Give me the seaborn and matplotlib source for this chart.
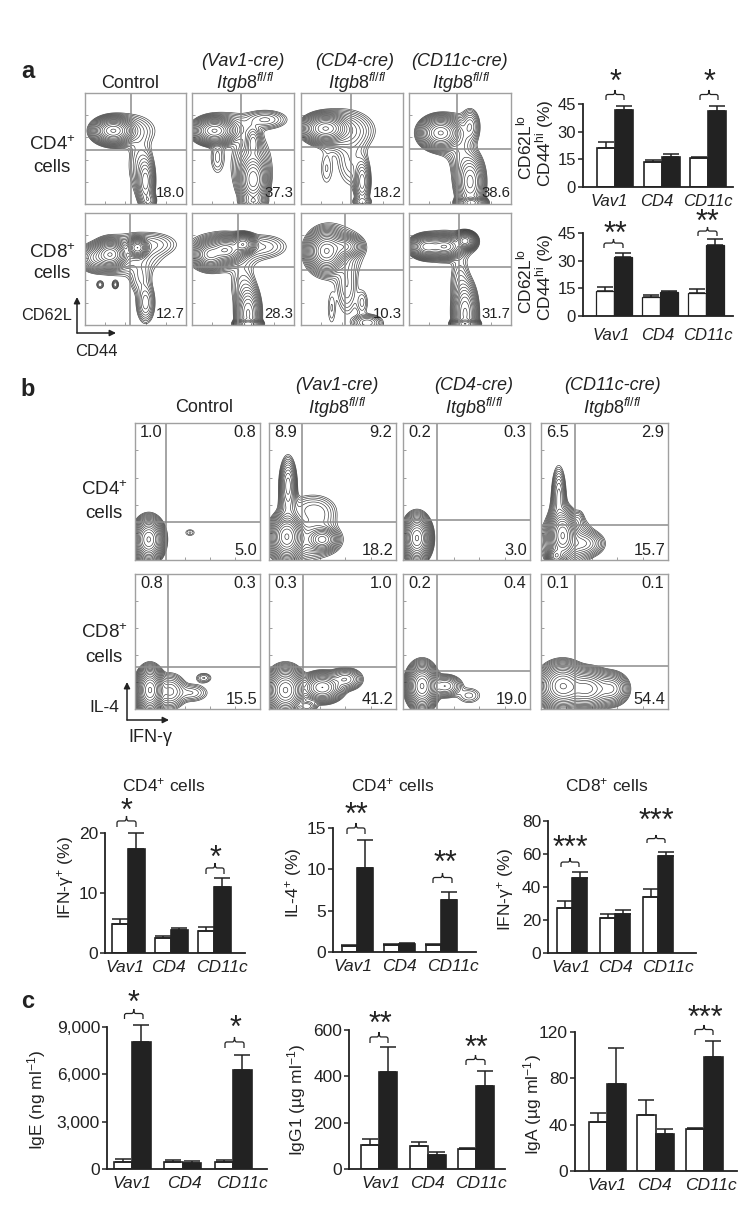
import numpy as np
import pandas as pd
import seaborn as sns
import matplotlib
matplotlib.use('Agg')
import matplotlib.pyplot as plt
from matplotlib.path import Path
from matplotlib.patches import PathPatch, FancyArrowPatch

sns.set_theme(style='white')
REG = ['Liberation Sans', 'DejaVu Sans']
plt.rcParams['font.family'] = REG
plt.rcParams['mathtext.fontset'] = 'custom'
plt.rcParams['mathtext.rm'] = 'Liberation Sans'
plt.rcParams['mathtext.it'] = 'Liberation Sans:italic'
plt.rcParams['mathtext.bf'] = 'Liberation Sans:bold'
plt.rcParams['text.color'] = '#222222'

W, H = 750, 1206
INK = '#222222'

# ---------- bar data ----------
groups = ['Vav1', 'CD4', 'CD11c']
a1_ctrl = [21, 13.5, 15.5];   a1_ko = [41.5, 16.5, 41]
a1_ctrl_top = [24.5, 14.5, 16.5]; a1_ko_top = [44, 18, 44]
a2_ctrl = [13.5, 10.5, 12.5]; a2_ko = [32, 13, 38.5]
a2_ctrl_top = [15.5, 11.5, 14.5]; a2_ko_top = [34, 13.3, 41.5]
b1_ctrl = [4.8, 2.5, 3.6];    b1_ko = [17.3, 3.9, 11]
b1_ctrl_top = [5.7, 2.9, 4.4]; b1_ko_top = [20, 4.1, 12.5]
b2_ctrl = [0.75, 0.85, 0.85]; b2_ko = [10.2, 1.0, 6.3]
b2_ctrl_top = [0.9, 1.0, 0.95]; b2_ko_top = [13.5, 1.1, 7.3]
b3_ctrl = [27, 21, 34];       b3_ko = [45.5, 23.5, 59]
b3_ctrl_top = [31.5, 23.5, 38.5]; b3_ko_top = [49, 26, 61]
c1_ctrl = [450, 450, 450];    c1_ko = [8050, 380, 6250]
c1_ctrl_top = [620, 590, 590]; c1_ko_top = [9150, 490, 7200]
c2_ctrl = [105, 100, 85];     c2_ko = [420, 62, 360]
c2_ctrl_top = [130, 118, 92]; c2_ko_top = [525, 72, 422]
c3_ctrl = [42, 48, 36];       c3_ko = [75, 32, 98]
c3_ctrl_top = [50, 61, 37];   c3_ko_top = [106, 36, 112]

# ---------- flow plots: populations ----------
# each population: (centre x, centre y, spread x, spread y, relative height), in panel fractions
fa_cd4 = [
    [(.28,.66,.11,.065,1),(.42,.66,.20,.11,.025),(.60,.20,.055,.14,.12),(.55,.35,.09,.20,.02),(.63,.03,.05,.05,.05)],
    [(.22,.66,.11,.065,1),(.35,.68,.20,.10,.03),(.72,.76,.15,.06,.03),(.60,.22,.08,.13,.45),(.60,.55,.05,.10,.08),(.58,.35,.13,.20,.04),(.60,.02,.08,.04,.1),(.25,.42,.06,.13,.012)],
    [(.24,.68,.12,.07,1),(.40,.66,.20,.12,.06),(.60,.20,.05,.13,.09),(.50,.40,.12,.20,.015),(.60,.02,.06,.03,.04),(.25,.32,.06,.15,.008)],
    [(.31,.64,.11,.08,1),(.45,.60,.13,.14,.03),(.60,.20,.08,.15,.3),(.61,.01,.08,.035,.6),(.52,.42,.08,.20,.03),(.60,.70,.06,.10,.05)],
]
fa_cd8 = [
    [(.25,.63,.09,.07,1),(.52,.69,.06,.05,.7),(.12,.60,.10,.07,.2),(.40,.62,.25,.13,.03),(.30,.36,.025,.03,.02),(.15,.36,.03,.03,.015),(.60,.20,.06,.12,.05),(.55,.42,.08,.12,.02),(.65,.72,.20,.08,.02)],
    [(.18,.63,.09,.07,.8),(.33,.67,.10,.065,1),(.50,.72,.07,.05,1),(.30,.65,.25,.12,.04),(.55,.10,.07,.15,.3),(.55,.01,.07,.025,.8),(.50,.35,.09,.15,.02),(.70,.70,.18,.08,.02)],
    [(.25,.66,.10,.10,1),(.42,.70,.10,.06,.3),(.33,.65,.20,.17,.03),(.45,.35,.08,.20,.02),(.65,.02,.10,.05,.05),(.30,.15,.04,.15,.008),(.60,.20,.05,.10,.012)],
    [(.18,.70,.09,.055,.9),(.35,.70,.10,.055,1),(.55,.75,.06,.045,.9),(.35,.70,.20,.10,.03),(.55,.10,.07,.17,.3),(.55,.01,.07,.025,.8),(.50,.38,.07,.18,.02)],
]
fb_cd4 = [
    [(.11,.15,.065,.085,1),(.44,.20,.04,.025,.008)],
    [(.14,.17,.07,.09,1),(.25,.15,.20,.10,.05),(.42,.15,.07,.05,.3),(.15,.55,.04,.12,.12),(.15,.35,.05,.15,.04),(.33,.37,.14,.08,.02),(.40,.30,.10,.10,.015)],
    [(.11,.16,.06,.09,1)],
    [(.17,.18,.06,.10,1),(.12,.03,.04,.04,.5),(.14,.48,.035,.13,.06),(.14,.33,.05,.12,.03),(.33,.12,.10,.06,.1),(.30,.30,.03,.05,.012),(.20,.14,.12,.12,.1)],
]
fb_cd8 = [
    [(.12,.14,.06,.09,1),(.28,.13,.08,.08,.08),(.45,.12,.10,.05,.02),(.55,.23,.05,.03,.015)],
    [(.13,.14,.08,.09,1),(.42,.16,.09,.06,.5),(.60,.22,.08,.05,.1),(.30,.02,.05,.03,.05)],
    [(.15,.17,.065,.09,1),(.33,.17,.08,.05,.1),(.52,.10,.08,.05,.012)],
    [(.17,.17,.10,.09,1),(.36,.15,.11,.08,.6),(.55,.15,.08,.07,.2)],
]
a_num = [['18.0', '37.3', '18.2', '38.6'], ['12.7', '28.3', '10.3', '31.7']]
b_num = [
    [('1.0', '0.8', '5.0'), ('8.9', '9.2', '18.2'), ('0.2', '0.3', '3.0'), ('6.5', '2.9', '15.7')],
    [('0.8', '0.3', '15.5'), ('0.3', '1.0', '41.2'), ('0.2', '0.4', '19.0'), ('0.1', '0.1', '54.4')],
]
a_cols = [(85, 186), (192, 294), (301, 403), (409, 511)]
a_rows = [(93, 204), (213, 325)]
a_v = [[.46, .48, .49, .47], [.45, .45, .435, .49]]
a_h = [[.483, .483, .513, .50], [.516, .516, .49, .52]]
b_cols = [(135, 260), (269, 396), (403, 530), (541, 668)]
b_rows = [(423, 560), (574, 709)]
b_v = [[.25, .256, .266, .264], [.26, .265, .266, .27]]
b_h = [[.28, .28, .29, .254], [.308, .308, .283, .32]]

fig = plt.figure(figsize=(W / 100, H / 100), dpi=100, facecolor='white')
LEVELS = np.geomspace(0.004, 0.95, 18)


def T(x, y, s, size=13, ha='center', va='center', **kw):
    return fig.text(x / W, 1 - y / H, s, fontsize=size, ha=ha, va=va, family=REG, color=INK, **kw)


def facs(box_x, box_y, pops, v, h):
    ax = fig.add_axes([box_x[0] / W, 1 - box_y[1] / H, (box_x[1] - box_x[0]) / W, (box_y[1] - box_y[0]) / H])
    gx, gy = np.meshgrid(np.linspace(0, 1, 220), np.linspace(0, 1, 220))
    z = np.zeros_like(gx)
    for cx, cy, sx, sy, w in pops:
        z += w * np.exp(-(((gx - cx) / sx) ** 2 + ((gy - cy) / sy) ** 2))
    ax.contour(gx, gy, z / z.max(), levels=LEVELS, colors='#333333', linewidths=0.45)
    ax.set_xlim(0, 1)
    ax.set_ylim(0, 1)
    ax.axvline(v, color='#8c8c8c', lw=1.1)
    ax.axhline(h, color='#8c8c8c', lw=1.1)
    ax.set_xticks([.2, .4, .6, .8])
    ax.set_yticks([.2, .4, .6, .8])
    ax.set_xticklabels([])
    ax.set_yticklabels([])
    ax.tick_params(length=2, width=.5, color='#777777', left=True, bottom=True, direction='in')
    for s in ax.spines.values():
        s.set_color('#a0a0a0')
        s.set_linewidth(1)
    return ax


for r, row in enumerate(a_rows):
    data = [fa_cd4, fa_cd8][r]
    for c, col in enumerate(a_cols):
        ax = facs(col, row, data[c], a_v[r][c], a_h[r][c])
        ax.text(.99, .10, a_num[r][c], transform=ax.transAxes, ha='right', va='center', fontsize=10.7, color=INK)

for r, row in enumerate(b_rows):
    data = [fb_cd4, fb_cd8][r]
    for c, col in enumerate(b_cols):
        ax = facs(col, row, data[c], b_v[r][c], b_h[r][c])
        ul, ur, lr = b_num[r][c]
        ax.text(.04, .93, ul, transform=ax.transAxes, ha='left', va='center', fontsize=11.8, color=INK)
        ax.text(.97, .93, ur, transform=ax.transAxes, ha='right', va='center', fontsize=11.8, color=INK)
        ax.text(.98, .07, lr, transform=ax.transAxes, ha='right', va='center', fontsize=11.8, color=INK)


def bars(left, right, base, tick, ymax, ticks, ticklabs, c0, sp, bw, ctrl, ko, ctrl_top, ko_top, lab_x, fs=12.5, lw=1.2, pad=5):
    top = base - (base - tick) * 1.35
    ax = fig.add_axes([left / W, 1 - base / H, (right - left) / W, (base - top) / H])
    ax.patch.set_alpha(0)
    df = pd.DataFrame({'group': groups * 2, 'genotype': ['ctrl'] * 3 + ['ko'] * 3, 'value': list(ctrl) + list(ko)})
    sns.barplot(data=df, x='group', y='value', hue='genotype', order=groups, hue_order=['ctrl', 'ko'],
                palette={'ctrl': 'white', 'ko': '#222222'}, edgecolor=INK, linewidth=lw, saturation=1,
                width=2 * bw / sp, errorbar=None, legend=False, ax=ax)
    for cont, tops in zip(ax.containers, [ctrl_top, ko_top]):
        for bar, t in zip(cont, tops):
            xc = bar.get_x() + bar.get_width() / 2
            v = bar.get_height()
            ax.errorbar([xc], [v], yerr=[[0], [t - v]], color=INK, lw=1.1, capsize=5.5, capthick=1.1, zorder=1)
    ax.set_xlim((left - c0) / sp, (right - c0) / sp)
    ax.set_ylim(0, ymax * 1.35)
    ax.set_yticks(ticks)
    ax.set_yticklabels(ticklabs, fontsize=fs, family=REG, color=INK)
    ax.set_xticks([(x - c0) / sp for x in lab_x])
    ax.set_xticklabels(groups, fontsize=fs, family=REG, style='italic', color=INK)
    ax.set_xlabel('')
    ax.set_ylabel('')
    ax.tick_params(axis='y', length=3.5, width=1.1, color=INK, left=True, pad=1.5)
    ax.tick_params(axis='x', length=0, pad=pad)
    for s in ['top', 'right']:
        ax.spines[s].set_visible(False)
    ax.spines['left'].set_bounds(0, ymax)
    for s in ['left', 'bottom']:
        ax.spines[s].set_color(INK)
        ax.spines[s].set_linewidth(1.3)
    return ax


def brace(x0, x1, y_top, y_bot, star_x, star_y, n):
    def P(x, y):
        return (x / W, 1 - y / H)
    xm = (x0 + x1) / 2
    sh = y_top + (y_bot - y_top) * 0.45
    verts = [P(x0, y_bot), P(x0, sh + 2), P(x0, sh), P(x0 + 2, sh), P(xm - 2, sh), P(xm, sh), P(xm, y_top),
             P(xm, sh), P(xm + 2, sh), P(x1 - 2, sh), P(x1, sh), P(x1, sh + 2), P(x1, y_bot)]
    L, C = Path.LINETO, Path.CURVE3
    codes = [Path.MOVETO, L, C, C, L, C, C, C, C, L, C, C, L]
    fig.add_artist(PathPatch(Path(verts, codes), transform=fig.transFigure, fill=False, ec=INK, lw=0.9))
    T(star_x, star_y + 5.5, '*' * n, size=22)


lab = dict(rotation=90)
# panel a bars
bars(583, 733, 187, 104, 45, [0, 15, 30, 45], ['0', '15', '30', '45'], 615, 46.5, 18, a1_ctrl, a1_ko, a1_ctrl_top, a1_ko_top, [609, 657, 708], fs=12)
bars(583, 733, 316, 233, 45, [0, 15, 30, 45], ['0', '15', '30', '45'], 614, 46, 18, a2_ctrl, a2_ko, a2_ctrl_top, a2_ko_top, [611, 658, 708], fs=12, lw=.9, pad=9)
T(524, 147, r'CD62L$^{\mathrm{lo}}$', size=12.5, **lab)
T(545, 143, r'CD44$^{\mathrm{hi}}$ (%)', size=12.5, **lab)
T(524, 281, r'CD62L$^{\mathrm{lo}}$', size=12.5, **lab)
T(545, 277, r'CD44$^{\mathrm{hi}}$ (%)', size=12.5, **lab)
brace(606, 624, 90, 100, 615, 77, 1)
brace(700, 718, 90, 100, 710, 77, 1)
brace(604, 623, 239, 248, 615, 229, 2)
brace(698, 717, 227, 236, 707, 217, 2)

# panel b bars
bars(105, 245, 953, 833, 20, [0, 10, 20], ['0', '10', '20'], 128, 43, 16.5, b1_ctrl, b1_ko, b1_ctrl_top, b1_ko_top, [125, 168, 222])
bars(333, 476, 952, 828, 15, [0, 5, 10, 15], ['0', '5', '10', '15'], 357, 42, 15.5, b2_ctrl, b2_ko, b2_ctrl_top, b2_ko_top, [353, 399, 453])
bars(548, 696, 953, 821, 80, [0, 20, 40, 60, 80], ['0', '20', '40', '60', '80'], 572, 43, 15, b3_ctrl, b3_ko, b3_ctrl_top, b3_ko_top, [571, 615, 668])
T(66, 878, 'IFN-γ$^{+}$ (%)', size=12.5, **lab)
T(293, 883, 'IL-4$^{+}$ (%)', size=12.5, **lab)
T(505, 890, 'IFN-γ$^{+}$ (%)', size=12.5, **lab)
brace(117, 136, 816, 827, 126, 806, 1)
brace(206, 224, 863, 874, 215, 853, 1)
brace(347, 365, 823, 834, 356, 810, 2)
brace(433, 452, 873, 883, 445, 858, 2)
brace(561, 579, 858, 867, 570, 843, 3)
brace(647, 665, 835, 843, 656, 816, 3)
T(164, 785, 'CD4$^{+}$ cells', size=12.5)
T(393, 785, 'CD4$^{+}$ cells', size=12.5)
T(607, 785, 'CD8$^{+}$ cells', size=12.5)

# panel c bars
bars(107, 267, 1169, 1027, 9000, [0, 3000, 6000, 9000], ['0', '3,000', '6,000', '9,000'], 132, 50.5, 18.5, c1_ctrl, c1_ko, c1_ctrl_top, c1_ko_top, [132, 184, 242])
bars(349, 505, 1169, 1030, 600, [0, 200, 400, 600], ['0', '200', '400', '600'], 379, 48.5, 18, c2_ctrl, c2_ko, c2_ctrl_top, c2_ko_top, [381, 427, 481])
bars(575, 737, 1171, 1032, 120, [0, 40, 80, 120], ['0', '40', '80', '120'], 607, 48.5, 18.5, c3_ctrl, c3_ko, c3_ctrl_top, c3_ko_top, [607, 654, 711])
T(37, 1100, 'IgE (ng ml$^{-1}$)', size=12.5, **lab)
T(297, 1100, 'IgG1 (µg ml$^{-1}$)', size=12.5, **lab)
T(533, 1105, 'IgA (µg ml$^{-1}$)', size=12.5, **lab)
brace(124.5, 143, 1009, 1019, 134, 998, 1)
brace(225, 244, 1037, 1048, 235, 1023, 1)
brace(370, 388, 1032, 1043, 380, 1019, 2)
brace(466, 485, 1055, 1065, 476, 1043, 2)
brace(695, 713, 1025, 1035, 705, 1013, 3)

# panel letters, headers, side labels
T(28, 72, 'a', size=17, weight='bold')
T(28, 390, 'b', size=17, weight='bold')
T(28, 1002, 'c', size=17, weight='bold')

ITG = r'$\mathit{Itgb8}^{\mathit{fl/fl}}$'
T(130, 83, 'Control')
for x, s in [(243, '(Vav1-cre)'), (355, '(CD4-cre)'), (459, '(CD11c-cre)')]:
    T(x, 62, s, style='italic')
    T(x + 2, 83, ITG)
T(204, 408, 'Control')
for x, s in [(337, '(Vav1-cre)'), (474, '(CD4-cre)'), (612, '(CD11c-cre)')]:
    T(x, 386, s, style='italic')
    T(x, 408, ITG)

for x, y, s in [(52, 145, 'CD4$^{+}$'), (52, 167, 'cells'), (52, 253, 'CD8$^{+}$'), (52, 274, 'cells'),
                (104, 490, 'CD4$^{+}$'), (104, 514, 'cells'), (104, 633, 'CD8$^{+}$'), (104, 657, 'cells')]:
    T(x, y, s, size=13.5)
T(47, 316, 'CD62L', size=11.7)
T(96, 352, 'CD44', size=12)
T(104, 708, 'IL-4', size=12.5)
T(150, 738, 'IFN-γ', size=13)


def arrow(x0, y0, x1, y1):
    fig.add_artist(FancyArrowPatch(
        (x0 / W, 1 - y0 / H), (x1 / W, 1 - y1 / H), transform=fig.transFigure,
        arrowstyle='-|>', mutation_scale=9, lw=1.1, color=INK, shrinkA=0, shrinkB=0))


arrow(77, 333, 77, 297)
arrow(77, 333, 116, 333)
arrow(127, 720, 127, 682)
arrow(127, 720, 169, 720)

fig.savefig('out.png', dpi=100, facecolor='white')
